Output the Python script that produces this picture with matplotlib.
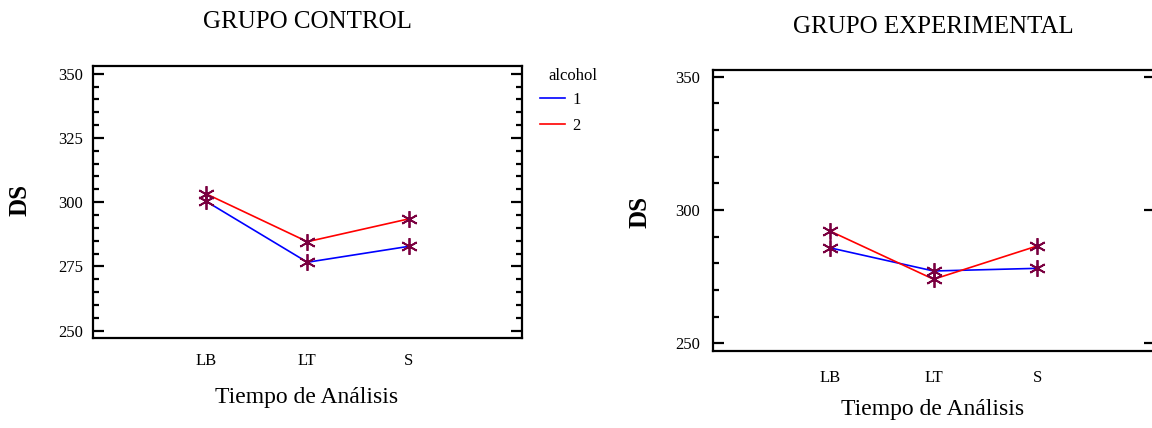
import matplotlib
matplotlib.use("Agg")
import matplotlib.pyplot as plt
from matplotlib.ticker import MultipleLocator, FixedLocator

plt.rcParams["font.family"] = ["Liberation Serif", "DejaVu Serif"]

# Tiempo de análisis (categorías del eje X)
tiempos = ["LB", "LT", "S"]
niveles_alcohol = ["1", "2"]

# Medias de DS - grupo control
control_alc1 = [300.4, 276.6, 282.8]
control_alc2 = [303.3, 284.6, 293.5]

# Medias de DS - grupo experimental
experimental_alc1 = [285.8, 277.1, 278.1]
experimental_alc2 = [292.1, 274.0, 286.5]

BLUE = "#0000ff"
RED = "#ff0000"
MARKER = "#7a0040"
W, H = 1152, 428

fig = plt.figure(figsize=(W / 100, H / 100), dpi=100)


def px_axes(left, top, right, bottom):
    return fig.add_axes([left / W, (H - bottom) / H, (right - left) / W, (bottom - top) / H])


def px_text(x, y, s, **kw):
    return fig.text(x / W, (H - y) / H, s, **kw)


def draw_series(ax, values, color):
    x = list(range(1, len(tiempos) + 1))
    ax.plot(x, values, color=color, lw=1.2, zorder=2)
    ax.plot(x, values, ls="none", marker=(6, 2, 0), ms=12, mew=1.3,
            color=MARKER, zorder=3)


def style_frame(ax):
    for s in ax.spines.values():
        s.set_linewidth(1.6)
    ax.set_xticks(range(1, len(tiempos) + 1))
    ax.set_xticklabels(tiempos, fontsize=12)
    ax.tick_params(axis="x", length=0)


# ---------- GRUPO CONTROL ----------
ax1 = px_axes(93, 65.5, 521.7, 337.5)
draw_series(ax1, control_alc1, BLUE)
draw_series(ax1, control_alc2, RED)
ax1.set_xlim(-0.11, 4.11)
ax1.set_ylim(247.3, 353.2)
style_frame(ax1)
ax1.yaxis.set_major_locator(FixedLocator([250, 275, 300, 325, 350]))
ax1.yaxis.set_minor_locator(MultipleLocator(5))
ax1.tick_params(axis="y", which="major", direction="in", length=8, width=1.6,
                right=True, labelsize=12, pad=7)
ax1.tick_params(axis="y", which="minor", direction="in", length=4, width=1.6,
                right=True)
ax1.tick_params(axis="x", pad=11)

px_text(307, 22, "GRUPO CONTROL", fontsize=18, ha="center", va="center")
px_text(307, 397, "Tiempo de Análisis", fontsize=17, ha="center", va="center")
px_text(20, 200, "DS", fontsize=18, fontweight="bold", rotation=90,
        ha="center", va="center")

# Leyenda (alcohol)
px_text(573, 76, "alcohol", fontsize=12, ha="center", va="center")
handles = [plt.Line2D([], [], color=BLUE, lw=1.2),
           plt.Line2D([], [], color=RED, lw=1.2)]
fig.legend(handles, niveles_alcohol, loc="upper left",
           bbox_to_anchor=(540 / W, (H - 92) / H), frameon=False,
           fontsize=12, handlelength=1.5, handletextpad=0.45,
           labelspacing=0.62, borderpad=0.0, borderaxespad=0.0)

# ---------- GRUPO EXPERIMENTAL ----------
ax2 = px_axes(712.7, 70, 1154.5, 350.7)
draw_series(ax2, experimental_alc1, BLUE)
draw_series(ax2, experimental_alc2, RED)
ax2.set_xlim(-0.13, 4.13)
ax2.set_ylim(247.2, 352.5)
style_frame(ax2)
ax2.yaxis.set_major_locator(FixedLocator([250, 300, 350]))
ax2.yaxis.set_minor_locator(MultipleLocator(10))
ax2.tick_params(axis="y", which="major", direction="in", length=8, width=1.6,
                right=True, labelsize=12, pad=9)
ax2.tick_params(axis="y", which="minor", direction="in", length=4, width=1.6,
                right=False)
ax2.tick_params(axis="x", pad=14)

px_text(933, 27, "GRUPO EXPERIMENTAL", fontsize=18, ha="center", va="center")
px_text(933, 410, "Tiempo de Análisis", fontsize=17, ha="center", va="center")
px_text(640, 212, "DS", fontsize=18, fontweight="bold", rotation=90,
        ha="center", va="center")

fig.savefig("out.png", dpi=100)
